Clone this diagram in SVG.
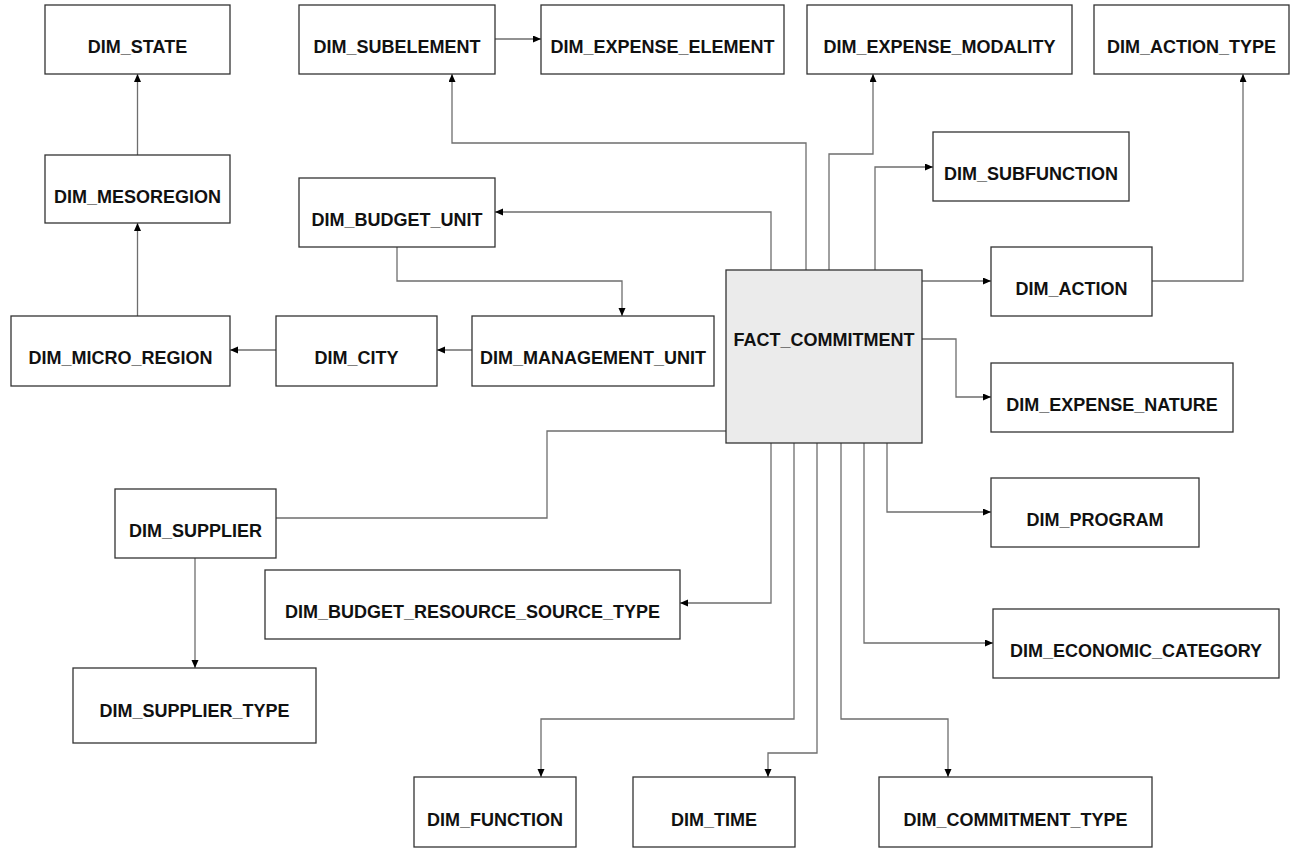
<svg xmlns="http://www.w3.org/2000/svg" width="1291" height="848" viewBox="0 0 1291 848">
<style>
.n rect{fill:#fff;stroke:#333;stroke-width:1.3}
.n text{font-family:"Liberation Sans",Arial,sans-serif;font-size:18px;font-weight:bold;fill:#111;text-anchor:middle}
#edges path{fill:none;stroke:#6e6e6e;stroke-width:1.3}
</style>
<defs>
<marker id="ah" markerUnits="userSpaceOnUse" markerWidth="9" markerHeight="8" refX="8" refY="3.5" orient="auto"><path d="M0,0 L8,3.5 L0,7 z" fill="#000"/></marker>
</defs>
<g id="edges">
<path d="M137.5,155 V74" marker-end="url(#ah)"/>
<path d="M137.5,316 V223" marker-end="url(#ah)"/>
<path d="M276,350 H230" marker-end="url(#ah)"/>
<path d="M472,350 H437" marker-end="url(#ah)"/>
<path d="M397,247 V281 H622 V316" marker-end="url(#ah)"/>
<path d="M771,270 V212 H495" marker-end="url(#ah)"/>
<path d="M806,270 V143 H452 V74" marker-end="url(#ah)"/>
<path d="M495,39 H541" marker-end="url(#ah)"/>
<path d="M829,270 V154 H873 V74" marker-end="url(#ah)"/>
<path d="M875,270 V167 H933" marker-end="url(#ah)"/>
<path d="M922,281 H991" marker-end="url(#ah)"/>
<path d="M1152,281 H1243 V74" marker-end="url(#ah)"/>
<path d="M922,339 H956 V397 H991" marker-end="url(#ah)"/>
<path d="M887,443 V512 H991" marker-end="url(#ah)"/>
<path d="M864,443 V643 H993" marker-end="url(#ah)"/>
<path d="M841,443 V719 H948 V777" marker-end="url(#ah)"/>
<path d="M817,443 V753 H768 V777" marker-end="url(#ah)"/>
<path d="M794,443 V719 H541 V777" marker-end="url(#ah)"/>
<path d="M771,443 V603 H680" marker-end="url(#ah)"/>
<path d="M726,431 H547 V518 H276"/>
<path d="M195,558 V668" marker-end="url(#ah)"/>
</g>
<g id="dim_state" class="n"><rect x="45" y="5" width="185" height="69"/><text x="137.5" y="53">DIM_STATE</text></g>
<g id="dim_subelement" class="n"><rect x="299" y="5" width="196" height="69"/><text x="397" y="53">DIM_SUBELEMENT</text></g>
<g id="dim_expense_element" class="n"><rect x="541" y="5" width="243" height="69"/><text x="662.5" y="53">DIM_EXPENSE_ELEMENT</text></g>
<g id="dim_expense_modality" class="n"><rect x="807" y="5" width="265" height="69"/><text x="939.5" y="53">DIM_EXPENSE_MODALITY</text></g>
<g id="dim_action_type" class="n"><rect x="1094" y="5" width="195" height="69"/><text x="1191.5" y="53">DIM_ACTION_TYPE</text></g>
<g id="dim_mesoregion" class="n"><rect x="45" y="155" width="185" height="68"/><text x="137.5" y="203">DIM_MESOREGION</text></g>
<g id="dim_budget_unit" class="n"><rect x="299" y="178" width="196" height="69"/><text x="397" y="226">DIM_BUDGET_UNIT</text></g>
<g id="dim_subfunction" class="n"><rect x="933" y="132" width="196" height="69"/><text x="1031" y="180">DIM_SUBFUNCTION</text></g>
<g id="dim_action" class="n"><rect x="991" y="247" width="161" height="69"/><text x="1071.5" y="295">DIM_ACTION</text></g>
<g id="dim_micro_region" class="n"><rect x="11" y="316" width="219" height="70"/><text x="120.5" y="364">DIM_MICRO_REGION</text></g>
<g id="dim_city" class="n"><rect x="276" y="316" width="161" height="70"/><text x="356.5" y="364">DIM_CITY</text></g>
<g id="dim_management_unit" class="n"><rect x="472" y="316" width="242" height="70"/><text x="593" y="364">DIM_MANAGEMENT_UNIT</text></g>
<g id="fact_commitment" class="n"><rect x="726" y="270" width="196" height="173" style="fill:#ebebeb"/><text x="824" y="346">FACT_COMMITMENT</text></g>
<g id="dim_expense_nature" class="n"><rect x="991" y="363" width="242" height="69"/><text x="1112" y="411">DIM_EXPENSE_NATURE</text></g>
<g id="dim_program" class="n"><rect x="991" y="478" width="208" height="69"/><text x="1095" y="526">DIM_PROGRAM</text></g>
<g id="dim_supplier" class="n"><rect x="115" y="489" width="161" height="69"/><text x="195.5" y="537">DIM_SUPPLIER</text></g>
<g id="dim_budget_resource_source_type" class="n"><rect x="265" y="570" width="415" height="69"/><text x="472.5" y="618">DIM_BUDGET_RESOURCE_SOURCE_TYPE</text></g>
<g id="dim_economic_category" class="n"><rect x="993" y="609" width="286" height="69"/><text x="1136" y="657">DIM_ECONOMIC_CATEGORY</text></g>
<g id="dim_supplier_type" class="n"><rect x="73" y="668" width="243" height="75"/><text x="194.5" y="717">DIM_SUPPLIER_TYPE</text></g>
<g id="dim_function" class="n"><rect x="414" y="777" width="162" height="70"/><text x="495" y="826">DIM_FUNCTION</text></g>
<g id="dim_time" class="n"><rect x="633" y="777" width="162" height="70"/><text x="714" y="826">DIM_TIME</text></g>
<g id="dim_commitment_type" class="n"><rect x="879" y="777" width="273" height="70"/><text x="1015.5" y="826">DIM_COMMITMENT_TYPE</text></g>
</svg>
